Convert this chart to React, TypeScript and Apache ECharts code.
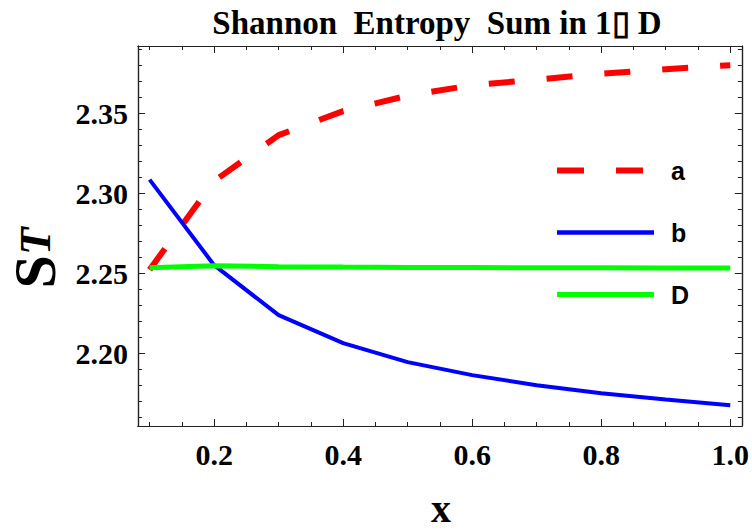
import React, { useEffect, useRef } from "react";
import * as echarts from "echarts";

// Sampled x positions shared by every curve
const xValues = [0.1, 0.2, 0.3, 0.4, 0.5, 0.6, 0.7, 0.8, 0.9, 1.0];

// Entropy sum S_T for each case
const seriesA = [2.2522, 2.3075, 2.3363, 2.3513, 2.361, 2.3675, 2.371, 2.3747, 2.3775, 2.38];
const seriesB = [2.3085, 2.255, 2.2238, 2.2063, 2.1944, 2.1863, 2.18, 2.175, 2.171, 2.1675];
const seriesD = [2.2534, 2.2546, 2.2541, 2.2538, 2.2536, 2.2535, 2.2534, 2.2534, 2.2533, 2.2533];

// Tick positions
const xMajorTicks = [0.2, 0.4, 0.6, 0.8, 1.0];
const xMinorTicks = [0.1, 0.15, 0.25, 0.3, 0.35, 0.45, 0.5, 0.55, 0.65, 0.7, 0.75, 0.85, 0.9, 0.95];
const yMajorTicks = [2.2, 2.25, 2.3, 2.35];
const yMinorTicks = [2.16, 2.17, 2.18, 2.19, 2.21, 2.22, 2.23, 2.24, 2.26, 2.27, 2.28, 2.29, 2.31, 2.32, 2.33, 2.34, 2.36, 2.37, 2.38, 2.39];

const X_MIN = 0.082;
const X_MAX = 1.018;
const Y_MIN = 2.1545;
const Y_MAX = 2.392;

const serif = "'Liberation Serif', 'Times New Roman', serif";
const sans = "'Liberation Sans', Arial, sans-serif";
const frameColor = "#222";

function xAxisDef(position: "top" | "bottom", ticks: number[], len: number, labels: boolean) {
  return {
    type: "value",
    position,
    min: X_MIN,
    max: X_MAX,
    axisLine: { show: true, onZero: false, lineStyle: { color: frameColor, width: 1.2 } },
    axisTick: { show: true, inside: true, length: len, customValues: ticks, lineStyle: { color: frameColor, width: 1 } },
    axisLabel: labels
      ? {
          show: true,
          customValues: xMajorTicks,
          formatter: (v: number) => v.toFixed(1),
          color: "#000",
          fontFamily: serif,
          fontWeight: "bold",
          fontSize: 30,
          margin: 13,
        }
      : { show: false },
    splitLine: { show: false },
  };
}

function yAxisDef(position: "left" | "right", ticks: number[], len: number, labels: boolean) {
  return {
    type: "value",
    position,
    min: Y_MIN,
    max: Y_MAX,
    axisLine: { show: true, onZero: false, lineStyle: { color: frameColor, width: 1.2 } },
    axisTick: { show: true, inside: true, length: len, customValues: ticks, lineStyle: { color: frameColor, width: 1 } },
    axisLabel: labels
      ? {
          show: true,
          customValues: yMajorTicks,
          formatter: (v: number) => v.toFixed(2),
          color: "#000",
          fontFamily: serif,
          fontWeight: "bold",
          fontSize: 30,
          margin: 10,
        }
      : { show: false },
    splitLine: { show: false },
  };
}

const toPairs = (ys: number[]) => xValues.map((x, i) => [x, ys[i]]);

export default function App() {
  const ref = useRef<HTMLDivElement>(null);

  useEffect(() => {
    if (!ref.current) return;
    const chart = echarts.init(ref.current, null, { renderer: "svg" });
    chart.setOption({
      animation: false,
      backgroundColor: "#fff",
      grid: { left: 138, right: 7, top: 46, bottom: 105, containLabel: false },
      xAxis: [
        xAxisDef("bottom", xMajorTicks, 7, true),
        xAxisDef("bottom", xMinorTicks, 4, false),
        xAxisDef("top", xMajorTicks, 7, false),
        xAxisDef("top", xMinorTicks, 4, false),
      ],
      yAxis: [
        yAxisDef("left", yMajorTicks, 7, true),
        yAxisDef("left", yMinorTicks, 4, false),
        yAxisDef("right", yMajorTicks, 7, false),
        yAxisDef("right", yMinorTicks, 4, false),
      ],
      legend: {
        orient: "vertical",
        left: 554,
        top: 158,
        padding: 0,
        itemWidth: 97,
        itemHeight: 22,
        itemGap: 37,
        itemStyle: { opacity: 0 },
        textStyle: { fontFamily: sans, fontWeight: "bold", fontSize: 25, color: "#000", padding: [0, 0, 0, 12] },
        data: [
          { name: "a", lineStyle: { color: "#ff0000", width: 6, type: [27, 32] } },
          { name: "b", lineStyle: { color: "#0000ff", width: 4.5 } },
          { name: "D", lineStyle: { color: "#00ff00", width: 5 } },
        ],
      },
      series: [
        {
          name: "a",
          type: "line",
          data: toPairs(seriesA),
          symbol: "none",
          lineStyle: { color: "#ff0000", width: 6, type: [26, 32] },
          itemStyle: { color: "#ff0000" },
        },
        {
          name: "b",
          type: "line",
          data: toPairs(seriesB),
          symbol: "none",
          lineStyle: { color: "#0000ff", width: 4 },
          itemStyle: { color: "#0000ff" },
        },
        {
          name: "D",
          type: "line",
          data: toPairs(seriesD),
          symbol: "none",
          lineStyle: { color: "#00ff00", width: 5 },
          itemStyle: { color: "#00ff00" },
        },
      ],
      graphic: [
        {
          type: "text",
          x: 437,
          y: 23,
          style: {
            text: "Shannon\u00A0 Entropy\u00A0 Sum in 1\u25AF D",
            fontFamily: serif,
            fontWeight: "bold",
            fontSize: 33,
            fill: "#000",
            align: "center",
            verticalAlign: "middle",
          },
        },
        {
          type: "text",
          x: 441,
          y: 508,
          style: {
            text: "x",
            fontFamily: serif,
            fontWeight: "bold",
            fontSize: 40,
            fill: "#000",
            align: "center",
            verticalAlign: "middle",
          },
        },
        {
          type: "text",
          x: 35,
          y: 258,
          rotation: Math.PI / 2,
          style: {
            text: "{s|S}{t|T}",
            align: "center",
            verticalAlign: "middle",
            rich: {
              s: { fontFamily: serif, fontWeight: "bold", fontSize: 60, fill: "#000" },
              t: { fontFamily: serif, fontWeight: "bold", fontStyle: "italic", fontSize: 45, fill: "#000" },
            },
          },
        },
      ],
    });
    return () => chart.dispose();
  }, []);

  return (
    <div
      ref={ref}
      style={{ position: "fixed", left: 0, top: 0, width: 752, height: 531 }}
    />
  );
}
